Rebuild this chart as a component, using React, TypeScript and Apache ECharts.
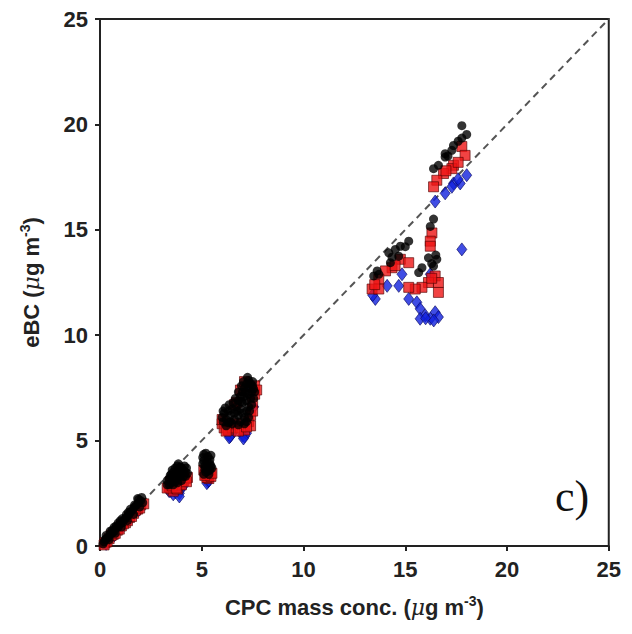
import React, { useEffect, useRef } from "react";
import * as echarts from "echarts";

const axisTicks = [0, 5, 10, 15, 20, 25];
const oneToOne: number[][] = [[0, 0], [25, 25]];

const blackCircles: number[][] = [
  [0.2, 0.2], [0.3, 0.35], [0.4, 0.4], [0.5, 0.55], [0.6, 0.6], [0.7, 0.7], [0.8, 0.85], [0.9, 0.9],
  [1.0, 1.05], [1.1, 1.1], [1.2, 1.25], [1.3, 1.35], [1.4, 1.45], [1.5, 1.6], [1.6, 1.7], [1.7, 1.85],
  [1.8, 1.95], [1.9, 2.05], [2.0, 2.15], [1.85, 2.25], [1.0, 1.2], [0.8, 0.95], [1.4, 1.6], [0.6, 0.75],
  [0.3, 0.5], [0.5, 0.7], [0.7, 0.9], [0.9, 1.1], [1.1, 1.3], [1.3, 1.5], [1.5, 1.75], [1.7, 1.95],
  [1.9, 2.2], [2.05, 2.3], [2.1, 2.05], [0.45, 0.3], [0.75, 0.6], [1.05, 0.9], [1.35, 1.2], [1.65, 1.5],
  [1.95, 1.85], [0.15, 0.1], [0.25, 0.3],
  [3.4, 3.2], [3.5, 3.4], [3.6, 3.5], [3.7, 3.7], [3.8, 3.8], [3.9, 3.6], [4.0, 3.7], [4.1, 3.6],
  [4.2, 3.5], [3.5, 3.0], [3.7, 3.2], [3.9, 3.3], [4.1, 3.3], [3.6, 2.9], [3.8, 3.0], [4.0, 3.1],
  [3.4, 2.9], [3.8, 3.5], [4.0, 3.4], [4.2, 3.3], [3.3, 3.1], [3.3, 2.9], [3.55, 3.6], [3.65, 3.3],
  [3.75, 3.4], [3.85, 3.9], [4.15, 3.8], [4.25, 3.7], [4.3, 3.45], [3.95, 3.75], [3.45, 3.35],
  [3.7, 3.05], [4.05, 3.55],
  [5.1, 4.35], [5.2, 4.4], [5.3, 4.25], [5.1, 4.05], [5.25, 4.0], [5.4, 3.9], [5.15, 3.8], [5.3, 3.7],
  [5.4, 3.6], [5.2, 3.5], [5.35, 3.4], [5.4, 4.1], [5.05, 4.2], [5.45, 3.8], [5.05, 3.9], [5.45, 4.3],
  [5.5, 3.7], [5.15, 3.65], [5.3, 3.55], [5.1, 3.4],
  [6.0, 6.1], [6.1, 6.3], [6.2, 6.0], [6.3, 6.4], [6.4, 6.2], [6.5, 6.5], [6.6, 6.3], [6.7, 6.6],
  [6.8, 6.2], [6.9, 6.5], [7.0, 6.3], [7.1, 6.1], [7.2, 6.4], [6.4, 5.9], [6.6, 6.0], [6.9, 5.9],
  [7.1, 5.8], [6.2, 5.7], [7.3, 6.6], [6.5, 5.8],
  [6.8, 6.9], [6.9, 7.1], [7.0, 7.3], [7.1, 7.5], [7.2, 7.7], [7.3, 7.85], [7.4, 7.7], [7.5, 7.6],
  [7.45, 7.3], [7.4, 7.0], [7.3, 7.2], [7.2, 6.9], [7.0, 6.8], [7.5, 7.8], [7.1, 7.1], [7.3, 7.5], [7.55, 7.45],
  [6.05, 6.4], [6.15, 6.55], [6.35, 6.7], [6.55, 6.8], [6.65, 7.0], [6.8, 7.3], [6.95, 7.6], [7.05, 7.8],
  [7.25, 8.0], [7.6, 7.3], [7.55, 7.0], [7.45, 6.7], [7.35, 6.4], [7.3, 6.1], [7.2, 5.9], [6.8, 5.75],
  [6.3, 5.85], [6.05, 5.9], [6.75, 6.4], [6.95, 6.85], [7.15, 7.3],
  [17.78, 19.94], [18.02, 19.52], [17.78, 19.35], [17.37, 19.0], [17.29, 18.77], [16.96, 18.61],
  [16.96, 18.45], [16.63, 18.06], [16.39, 17.9], [17.6, 19.2], [17.1, 18.5],
  [16.39, 15.51], [16.23, 15.16], [15.17, 14.46], [14.76, 14.22], [14.51, 14.07], [14.19, 13.91],
  [14.68, 13.75], [16.14, 13.67], [16.55, 13.6], [16.39, 13.28], [15.82, 13.2], [15.66, 12.97],
  [13.62, 13.05], [13.45, 12.81], [13.7, 12.89], [14.27, 13.44], [15.0, 14.2], [14.35, 13.7],
  [16.3, 13.4], [16.5, 13.8],
];

const redSquares: number[][] = [
  [0.25, 0.15], [0.45, 0.35], [0.65, 0.55], [0.85, 0.75], [1.05, 0.95], [1.25, 1.1], [1.45, 1.35],
  [1.65, 1.55], [1.85, 1.75], [2.0, 1.95], [0.55, 0.5], [1.15, 1.05], [1.75, 1.7],
  [0.35, 0.2], [0.75, 0.6], [1.35, 1.2], [1.55, 1.4], [1.95, 1.8], [2.15, 2.0], [0.95, 0.8], [0.2, 0.05],
  [3.4, 2.8], [3.5, 2.7], [3.7, 2.9], [3.9, 2.9], [4.1, 3.1], [4.2, 3.2], [3.6, 2.6], [3.8, 2.7],
  [4.0, 2.9], [3.45, 3.05], [3.3, 2.75], [4.3, 3.25], [4.25, 3.05], [3.55, 2.85], [3.75, 2.75],
  [5.1, 3.6], [5.2, 3.4], [5.3, 3.3], [5.4, 3.5], [5.35, 3.2], [5.25, 3.25], [5.45, 3.3], [5.15, 3.35], [5.5, 3.45],
  [6.0, 5.8], [6.1, 5.6], [6.3, 5.5], [6.5, 5.6], [6.7, 5.8], [6.9, 5.6], [7.1, 5.5], [7.3, 5.9],
  [7.4, 6.2], [7.5, 6.8], [7.6, 7.2], [7.6, 7.6], [6.7, 6.8], [6.9, 7.4], [7.1, 7.8], [6.0, 6.0],
  [7.4, 5.7], [7.5, 6.4], [6.2, 5.45], [6.8, 5.45], [7.2, 5.65], [6.6, 6.7], [7.7, 7.4],
  [17.78, 18.95], [17.94, 18.53], [17.37, 18.06], [17.29, 17.9], [16.88, 17.67], [16.55, 17.35],
  [16.39, 17.04], [17.6, 18.2], [17.0, 17.8],
  [16.31, 14.85], [16.23, 14.46], [16.23, 14.22], [14.76, 13.6], [15.17, 13.44], [14.35, 13.2],
  [14.03, 13.05], [13.7, 12.66], [13.37, 12.19], [13.7, 12.19], [16.47, 12.81], [16.63, 12.5],
  [16.14, 12.5], [15.82, 12.27], [15.49, 12.19], [15.17, 12.27], [16.63, 12.03], [14.5, 13.3],
  [13.5, 12.4], [16.3, 12.7],
];

const blueDiamonds: number[][] = [
  [0.3, 0.1], [0.7, 0.5], [1.1, 0.9], [1.5, 1.3], [1.9, 1.7],
  [3.5, 2.6], [3.7, 2.55], [3.9, 2.5], [3.85, 2.7], [4.0, 2.75], [3.6, 2.45], [3.9, 2.35], [4.1, 2.85], [3.4, 2.6],
  [5.3, 3.05], [5.25, 2.98], [5.35, 3.1],
  [6.3, 5.3], [6.4, 5.2], [7.0, 5.25], [7.1, 5.2], [7.2, 5.35], [6.5, 5.35], [7.3, 7.6],
  [6.35, 5.15], [7.05, 5.1], [7.55, 6.6],
  [18.02, 17.59], [17.7, 17.2], [17.37, 17.2], [17.29, 17.04], [16.96, 16.73], [16.47, 16.34],
  [17.78, 14.07], [17.6, 17.4],
  [14.11, 12.34], [14.68, 12.34], [13.53, 11.72], [15.17, 11.72], [15.57, 11.56], [15.73, 11.25],
  [15.98, 10.94], [16.47, 11.09], [15.73, 10.78], [16.23, 10.78], [16.63, 10.86], [16.23, 12.89],
  [14.84, 12.89], [13.4, 11.9], [16.0, 10.8], [16.4, 10.7],
];

const FONT = "'Liberation Sans', Arial, sans-serif";

export default function App() {
  const ref = useRef<HTMLDivElement>(null);
  useEffect(() => {
    if (!ref.current) return;
    const chart = echarts.init(ref.current, undefined, { renderer: "svg" });
    const rich = {
      a: { fontFamily: FONT, fontWeight: "bold", fontSize: 22, color: "#222" },
      i: { fontFamily: "'DejaVu Serif', serif", fontStyle: "italic", fontSize: 22, color: "#222" },
      s: { fontFamily: FONT, fontWeight: "bold", fontSize: 14, color: "#222", padding: [0, 0, 12, 0] },
    };
    const axisCommon = {
      type: "value" as const,
      min: 0,
      max: 25,
      interval: 5,
      splitLine: { show: false },
      axisLine: { show: true, lineStyle: { color: "#222", width: 2 } },
      axisTick: { show: true, length: 5, lineStyle: { color: "#222", width: 2 } },
    };
    const labelStyle = {
      margin: 12,
      fontFamily: FONT,
      fontWeight: "bold" as const,
      fontSize: 22,
      color: "#222",
      formatter: (v: number) => (axisTicks.includes(v) ? String(v) : ""),
    };
    chart.setOption({
      animation: false,
      backgroundColor: "#fff",
      grid: { left: 92, right: 13, top: 6, bottom: 80, show: true, borderColor: "#222", borderWidth: 2 },
      xAxis: {
        ...axisCommon,
        name: "{a|CPC mass conc. (}{i|μ}{a|g m}{s|-3}{a|)}",
        nameLocation: "middle",
        nameGap: 48,
        nameTextStyle: { rich },
        axisLabel: labelStyle,
      },
      yAxis: {
        ...axisCommon,
        name: "{a|eBC (}{i|μ}{a|g m}{s|-3}{a|)}",
        nameLocation: "middle",
        nameGap: 56,
        nameRotate: 90,
        nameTextStyle: { rich },
        axisLabel: labelStyle,
      },
      series: [
        {
          type: "line",
          data: oneToOne,
          symbol: "none",
          lineStyle: { color: "#555", width: 2, type: [7, 5] },
          z: 1,
        },
        {
          type: "scatter",
          data: blueDiamonds,
          symbol: "diamond",
          symbolSize: [10, 13],
          itemStyle: { color: "#1020dd", borderColor: "#0a0a60", borderWidth: 0.8 },
          z: 2,
        },
        {
          type: "scatter",
          data: redSquares,
          symbol: "rect",
          symbolSize: 10,
          itemStyle: { color: "#ee1414", borderColor: "#500000", borderWidth: 0.8 },
          z: 3,
        },
        {
          type: "scatter",
          data: blackCircles,
          symbol: "circle",
          symbolSize: 9,
          itemStyle: { color: "#000" },
          z: 4,
        },
      ],
      graphic: [
        {
          type: "text",
          left: 547,
          top: 466,
          style: { text: "c)", font: "44px 'Liberation Serif', 'Times New Roman', serif", fill: "#111" },
        },
      ],
    });
    return () => chart.dispose();
  }, []);
  return <div ref={ref} style={{ width: 616, height: 618 }} />;
}
